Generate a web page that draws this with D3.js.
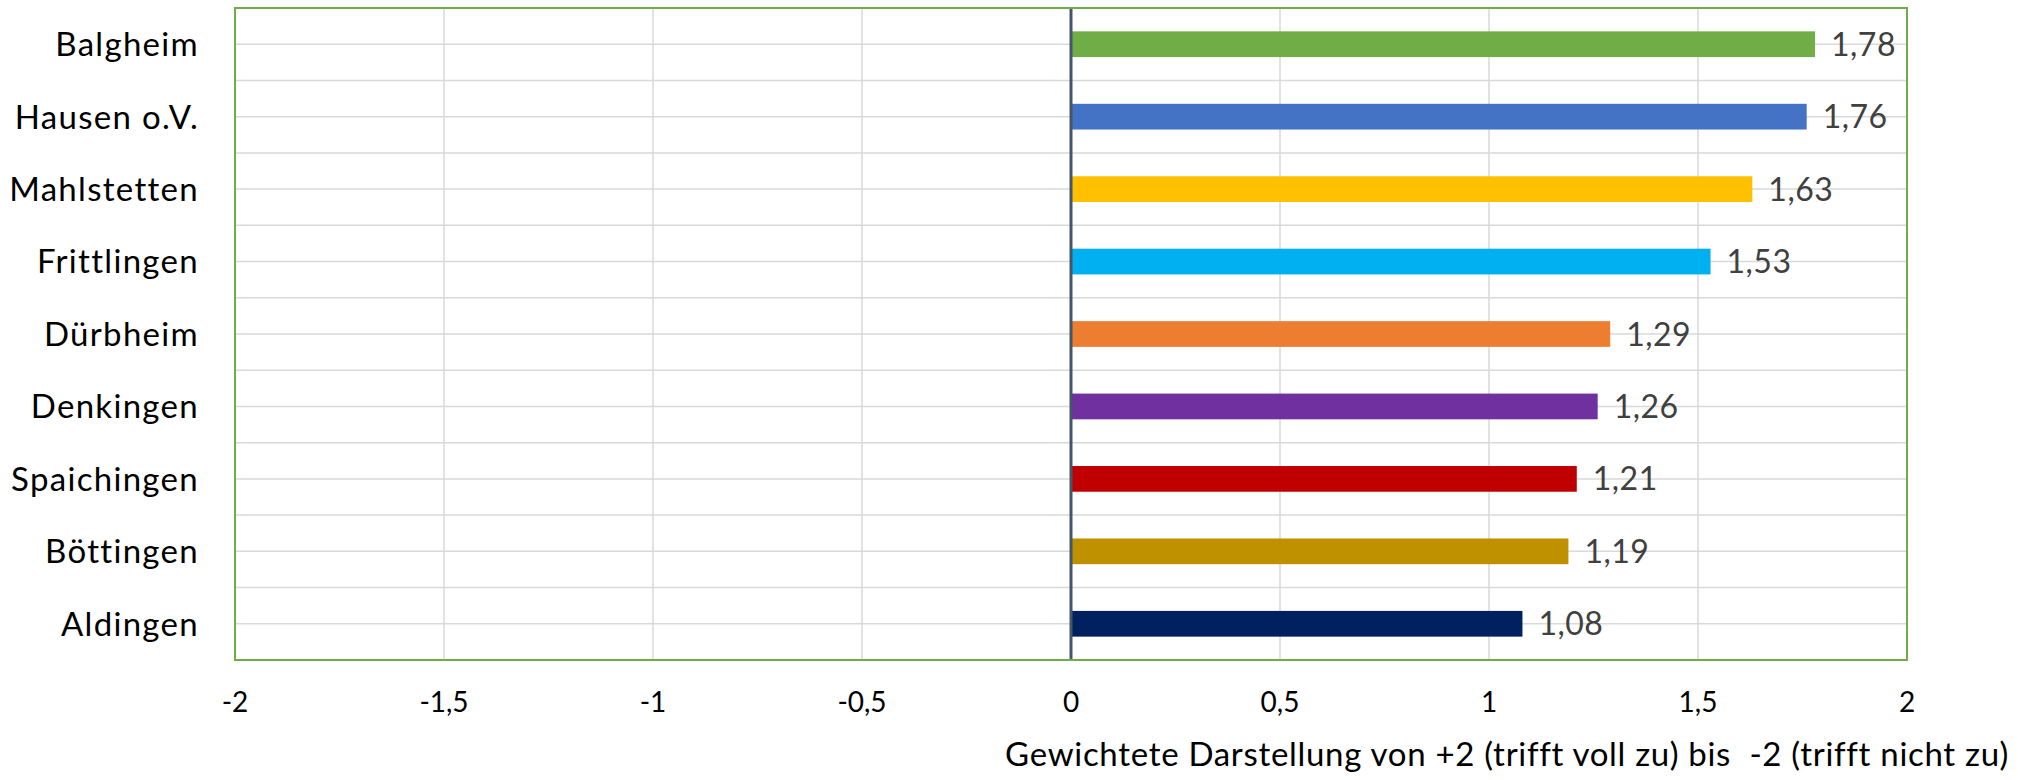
<!DOCTYPE html>
<html>
<head>
<meta charset="utf-8">
<script src="https://cdn.jsdelivr.net/npm/d3@7"></script>
<style>
  html, body { margin: 0; padding: 0; background: #fff; }
  svg { display: block; }
  text { font-family: Lato, "Open Sans", sans-serif; }
</style>
</head>
<body>
<svg id="chart" width="2018" height="780"></svg>
<script>
const categories = ["Balgheim", "Hausen o.V.", "Mahlstetten", "Frittlingen", "Dürbheim", "Denkingen", "Spaichingen", "Böttingen", "Aldingen"];
const values = [1.78, 1.76, 1.63, 1.53, 1.29, 1.26, 1.21, 1.19, 1.08];
const colors = ["#70AD47", "#4472C4", "#FFC000", "#00B0F0", "#ED7D31", "#7030A0", "#C00000", "#BF9000", "#002060"];
const xTicks = [-2, -1.5, -1, -0.5, 0, 0.5, 1, 1.5, 2];
const xTitle = "Gewichtete Darstellung von +2 (trifft voll zu) bis  -2 (trifft nicht zu)";

const svg = d3.select("#chart");
const plot = { left: 235, right: 1907, top: 8, bottom: 660 };

const x = d3.scaleLinear().domain([-2, 2]).range([plot.left, plot.right]);
const yBand = d3.scaleBand().domain(categories).range([plot.top, plot.bottom]).padding(0);
const yBar = d3.scaleBand().domain(categories).range([plot.top, plot.bottom])
  .paddingInner(0.645).paddingOuter(0.3225);

const fmt = v => d3.format(".2f")(v).replace(".", ",");
const fmtTick = v => String(v).replace(".", ",");

// horizontal gridlines (band boundaries and centers)
const hLines = [];
categories.forEach((c, i) => {
  if (i > 0) hLines.push(yBand(c));
  hLines.push(yBand(c) + yBand.bandwidth() / 2);
});
svg.append("g").selectAll("line").data(hLines).join("line")
  .attr("x1", plot.left).attr("x2", plot.right)
  .attr("y1", d => d).attr("y2", d => d)
  .attr("stroke", "#D9D9D9").attr("stroke-width", 1.5);

// vertical gridlines
svg.append("g").selectAll("line").data(xTicks.filter(t => t !== -2 && t !== 2 && t !== 0)).join("line")
  .attr("x1", d => x(d)).attr("x2", d => x(d))
  .attr("y1", plot.top).attr("y2", plot.bottom)
  .attr("stroke", "#D9D9D9").attr("stroke-width", 1.5);

// bars
svg.append("g").selectAll("rect").data(categories).join("rect")
  .attr("x", x(0))
  .attr("y", d => yBar(d))
  .attr("width", (d, i) => x(values[i]) - x(0))
  .attr("height", yBar.bandwidth())
  .attr("fill", (d, i) => colors[i]);

// zero line
svg.append("line")
  .attr("x1", x(0)).attr("x2", x(0))
  .attr("y1", plot.top).attr("y2", plot.bottom)
  .attr("stroke", "#44546A").attr("stroke-width", 3);

// plot border
svg.append("rect")
  .attr("x", plot.left).attr("y", plot.top)
  .attr("width", plot.right - plot.left).attr("height", plot.bottom - plot.top)
  .attr("fill", "none").attr("stroke", "#70AD47").attr("stroke-width", 2);

// data labels
svg.append("g").selectAll("text").data(categories).join("text")
  .attr("x", (d, i) => x(values[i]) + 16)
  .attr("y", d => yBand(d) + yBand.bandwidth() / 2)
  .attr("dy", "0.36em")
  .attr("font-size", 32)
  .attr("letter-spacing", 0.5)
  .attr("fill", "#404040")
  .text((d, i) => fmt(values[i]));

// category labels
svg.append("g").selectAll("text").data(categories).join("text")
  .attr("x", 199)
  .attr("y", d => yBand(d) + yBand.bandwidth() / 2)
  .attr("dy", "0.36em")
  .attr("text-anchor", "end")
  .attr("font-size", 33)
  .attr("letter-spacing", 1.3)
  .attr("fill", "#000")
  .text(d => d);

// x tick labels
svg.append("g").selectAll("text").data(xTicks).join("text")
  .attr("x", d => x(d))
  .attr("y", 712)
  .attr("text-anchor", "middle")
  .attr("font-size", 28)
  .attr("fill", "#000")
  .text(d => fmtTick(d));

// x axis title
svg.append("text")
  .attr("x", 2009)
  .attr("y", 766)
  .attr("text-anchor", "end")
  .attr("font-size", 33)
  .attr("letter-spacing", 0.7)
  .attr("fill", "#000")
  .style("white-space", "pre")
  .text(xTitle);
</script>
</body>
</html>
